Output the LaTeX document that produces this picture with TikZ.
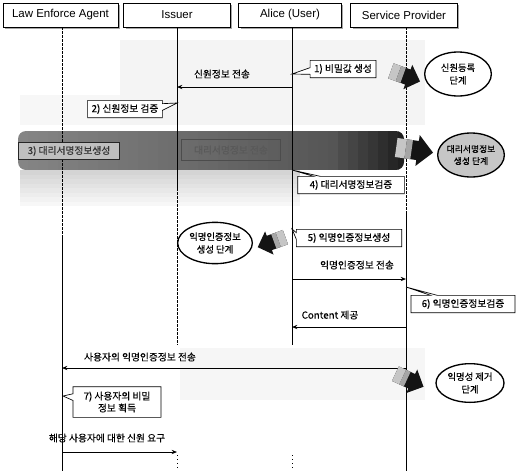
\documentclass[tikz,border=0pt]{standalone}
\usepackage{fontspec}
\setmainfont{Liberation Sans}
\newfontfamily\kr[FakeBold=0.3]{Noto Sans CJK KR}
\usetikzlibrary{shapes.geometric,shapes.callouts,arrows.meta,shadows}
\begin{document}
\begin{tikzpicture}[x=0.75pt,y=-0.75pt,
  hdr/.style={draw=black,fill=white,line width=0.5pt,inner sep=0pt,minimum height=18pt,
     font=\fontsize{8.6}{10}\selectfont,
     drop shadow={shadow xshift=1.6pt,shadow yshift=-1.6pt,fill=gray!70,opacity=1}},
  note/.style={rectangle callout,draw=black,fill=white,line width=0.5pt,inner xsep=3pt,inner ysep=2pt,
     minimum height=13pt,font=\kr\fontsize{7.3}{9}\selectfont,callout pointer width=5pt,align=center},
  lbl/.style={font=\kr\fontsize{7.3}{9}\selectfont,inner sep=1pt},
  msg/.style={-{Stealth[length=4pt,width=3.2pt]},line width=0.7pt},
  life/.style={line width=0.6pt},
  lifed/.style={line width=0.6pt,dash pattern=on 2pt off 1pt},
  lifedot/.style={line width=0.6pt,dash pattern=on 1pt off 2pt},
  phase/.style={ellipse,draw=black,line width=1pt,fill=white,inner sep=0pt},
  ptxt/.style={align=center,inner sep=0pt,font=\kr\fontsize{7}{9.5}\selectfont},
  blkarrow/.pic={
     \fill[black!92] (-15,-8) -- (3,-8) -- (3,-13) -- (16,0) -- (3,13) -- (3,8) -- (-15,8) -- cycle;
     \fill[gray!45] (-15,-8) -- (-7,-8) -- (-7,8) -- (-15,8) -- cycle;
     \fill[gray!70] (-7,-8) -- (-2,-8) -- (-2,8) -- (-7,8) -- cycle;
  }
]
\useasboundingbox (0,0) rectangle (516,471);

% background phase shading
\fill[gray!9] (120,40) rectangle (425,125);
\fill[gray!6] (20,95) rectangle (120,125);
\fill[gray!7] (180,348) rectangle (425,400);
\foreach \j in {0,...,7} {
  \pgfmathsetmacro\cc{17-2*\j}
  \fill[black!\cc] (20,170+\j*4.5) rectangle (300,174.6+\j*4.5);
}
\begin{scope}
  \clip[rounded corners=6pt] (18,131) rectangle (404,170);
  \foreach \i in {0,...,38} {
    \pgfmathsetmacro\c{\i<32 ? 48+0.6*\i : 67+(\i-31)*3}
    \fill[black!\c] (18+\i*10,131) rectangle (28.6+\i*10,170);
  }
\end{scope}

% headers
\node[hdr,minimum width=86pt] (hLaw) at (60.5,15) {Law Enforce Agent};
\node[hdr,minimum width=80pt] (hIss) at (177,15) {Issuer};
\node[hdr,minimum width=77pt] (hAli) at (290,15) {Alice (User)};
\node[hdr,minimum width=80pt] (hSP) at (404,15) {Service Provider};

% lifeline coordinates
\coordinate (L0) at (62,27);   \coordinate (L1) at (62,235);  \coordinate (L2) at (62,471);
\coordinate (I0) at (177,27);  \coordinate (I1) at (177,188); \coordinate (I2) at (177,345);
\coordinate (I3) at (177,455); \coordinate (I4) at (177,471);
\coordinate (A0) at (292,27);  \coordinate (A1) at (292,345);
\coordinate (A3) at (292,455); \coordinate (A4) at (292,471);
\coordinate (S0) at (406,27);  \coordinate (S1) at (406,212); \coordinate (S2) at (406,471);

\draw[lifed] (L0) -- (L1);
\draw[life] (L1) -- (L2);
\draw[life] (I0) -- (I1);
\draw[lifed] (I1) -- (I2);
\draw[lifedot] (I3) -- (I4);
\draw[life] (A0) -- (A1);
\draw[lifedot] (A3) -- (A4);
\draw[lifed] (S0) -- (S1);
\draw[life] (S1) -- (S2);

% band contents
\node[draw=black!85,line width=0.9pt,fill=gray!50,minimum width=76pt,minimum height=13pt,inner sep=1pt,
      font=\kr\fontsize{7.3}{9}\selectfont,text=black!80] (n3) at (69,151) {3) 대리서명정보생성};
\node[draw=black!70,line width=0.5pt,minimum width=74pt,minimum height=16pt,inner sep=1pt,
      font=\kr\fontsize{7.3}{9}\selectfont,text=black!65] (b2) at (231,150) {대리서명정보 전송};

% message coordinates
\coordinate (m1a) at (292,87);  \coordinate (m1b) at (177,87);
\coordinate (m2a) at (292,279); \coordinate (m2b) at (406,279);
\coordinate (m3a) at (406,327); \coordinate (m3b) at (292,327);
\coordinate (m4a) at (406,368); \coordinate (m4b) at (62,368);
\coordinate (m5a) at (62,452);  \coordinate (m5b) at (177,452);

\draw[msg] (m1a) -- (m1b);
\draw[msg] (m2a) -- (m2b);
\draw[msg] (m3a) -- (m3b);
\draw[msg] (m4a) -- (m4b);
\draw[msg] (m5a) -- (m5b);

\node[lbl] (t1) at (222,74) {신원정보 전송};
\node[lbl] (t2) at (357,265) {익명인증정보 전송};
\node[lbl] (t3) at (330,315) {Content 제공};
\node[lbl] (t4) at (140,357) {사용자의 익명인증정보 전송};
\node[lbl] (t5) at (107,438) {해당 사용자에 대한 신원 요구};

% callouts
\coordinate (p1) at (292,74);
\coordinate (p2) at (177,103);
\coordinate (p4) at (292,170);
\coordinate (p5) at (292,229);
\coordinate (p6) at (406,287);
\coordinate (p7) at (63,396);
\node[note,callout absolute pointer=(p1)] (n1) at (343,69) {1) 비밀값 생성};
\node[note,callout absolute pointer=(p2)] (n2) at (125,109) {2) 신원정보 검증};
\node[note,callout absolute pointer=(p4),minimum width=80pt] (n4) at (351,185) {4) 대리서명정보검증};
\node[note,callout absolute pointer=(p5),minimum width=79pt] (n5) at (349,238) {5) 익명인증정보생성};
\node[note,callout absolute pointer=(p6),minimum width=78pt] (n6) at (463,304) {6) 익명인증정보검증};
\node[note,callout absolute pointer=(p7),minimum width=66pt,minimum height=23pt] (n7) at (117,402) {7) 사용자의 비밀\\정보 획득};

% phase ellipses
\node[phase,minimum width=50pt,minimum height=33pt] (e1) at (458,74) {};
\node[ptxt] (e1t) at (e1) {신원등록\\단계};
\node[phase,fill=gray!45,minimum width=50pt,minimum height=33pt] (e2) at (471,155) {};
\node[ptxt,font=\kr\fontsize{6.6}{9}\selectfont] (e2t) at (e2) {대리서명정보\\생성 단계};
\node[phase,minimum width=56pt,minimum height=31pt] (e3) at (215,243) {};
\node[ptxt] (e3t) at (e3) {익명인증정보\\생성 단계};
\node[phase,minimum width=51pt,minimum height=29pt] (e4) at (470,383) {};
\node[ptxt] (e4t) at (e4) {익명성 제거\\단계};

% block arrows
\pic[rotate=-20] at (405,76) {blkarrow};
\pic[rotate=-8,scale=1.2] at (414,150) {blkarrow};
\pic[rotate=200,scale=0.95] at (272,242) {blkarrow};
\pic[rotate=-25] at (409,380) {blkarrow};
\end{tikzpicture}
\end{document}
